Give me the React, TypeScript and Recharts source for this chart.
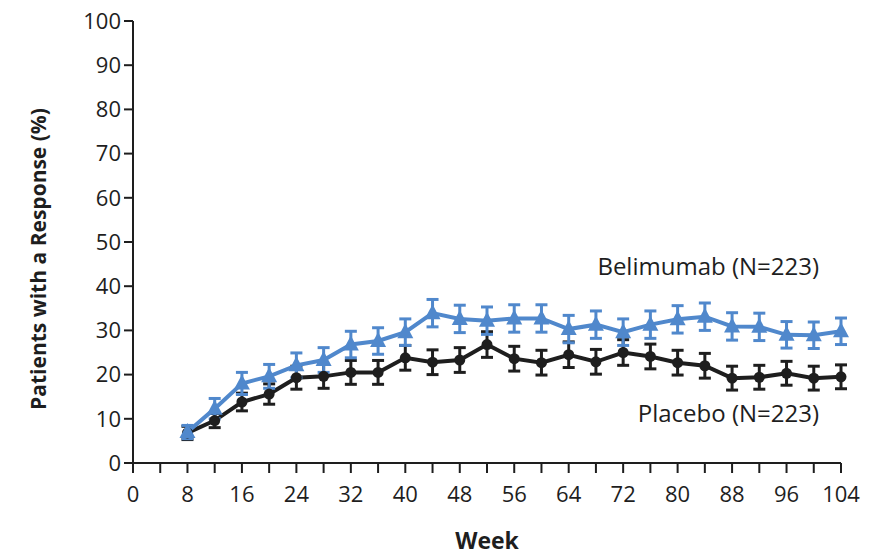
import React from 'react';
import { LineChart, Line, XAxis, YAxis, ErrorBar, ReferenceDot } from 'recharts';

const weeks = [8, 12, 16, 20, 24, 28, 32, 36, 40, 44, 48, 52, 56, 60, 64, 68, 72, 76, 80, 84, 88, 92, 96, 100, 104];
const belimumab = [7.0, 12.3, 18.0, 19.6, 22.1, 23.3, 26.8, 27.6, 29.6, 33.9, 32.6, 32.2, 32.7, 32.7, 30.3, 31.3, 29.6, 31.3, 32.5, 33.1, 30.9, 30.8, 29.0, 28.9, 29.8];
const belimumabErr = [1.5, 2.3, 2.5, 2.7, 2.8, 2.8, 3.0, 3.0, 3.0, 3.1, 3.1, 3.1, 3.1, 3.1, 3.1, 3.1, 3.0, 3.1, 3.1, 3.1, 3.1, 3.1, 3.0, 3.0, 3.0];
const placebo = [6.8, 9.6, 13.8, 15.6, 19.3, 19.6, 20.5, 20.5, 23.8, 22.8, 23.3, 26.8, 23.6, 22.7, 24.5, 22.9, 25.0, 24.1, 22.7, 22.0, 19.2, 19.4, 20.3, 19.2, 19.5];
const placeboErr = [1.5, 1.6, 2.0, 2.3, 2.6, 2.7, 2.7, 2.7, 2.8, 2.8, 2.8, 2.9, 2.8, 2.8, 2.9, 2.8, 2.9, 2.8, 2.8, 2.8, 2.7, 2.7, 2.7, 2.7, 2.7];
const xTicks = [0, 4, 8, 12, 16, 20, 24, 28, 32, 36, 40, 44, 48, 52, 56, 60, 64, 68, 72, 76, 80, 84, 88, 92, 96, 100, 104];
const yTicks = [0, 10, 20, 30, 40, 50, 60, 70, 80, 90, 100];

const data = weeks.map((week, i) => ({
  week,
  belimumab: belimumab[i],
  belimumabErr: belimumabErr[i],
  placebo: placebo[i],
  placeboErr: placeboErr[i],
}));

const BLUE = '#5088cc';
const BLACK = '#1e1e1e';
const FONT = '"Open Sans", sans-serif';

const TriangleDot = (props: any) => {
  const { cx, cy, index } = props;
  if (cx == null || cy == null) return <g key={`t-${index}`} />;
  return (
    <path
      key={`t-${index}`}
      d={`M${cx},${cy - 9} L${cx + 8},${cy + 6} L${cx - 8},${cy + 6} Z`}
      fill={BLUE}
    />
  );
};

const CircleDot = (props: any) => {
  const { cx, cy, index } = props;
  if (cx == null || cy == null) return <g key={`c-${index}`} />;
  return <circle key={`c-${index}`} cx={cx} cy={cy} r={5.5} fill={BLACK} />;
};

const YLabel = (props: any) => {
  const { viewBox } = props;
  const x = viewBox.x + 38;
  const y = viewBox.y + viewBox.height / 2 + 17;
  return (
    <text
      x={x}
      y={y}
      transform={`rotate(-90, ${x}, ${y})`}
      textAnchor="middle"
      dominantBaseline="central"
      fontFamily={FONT}
      fontWeight={700}
      fontSize={21}
      fill={BLACK}
    >
      Patients with a Response (%)
    </text>
  );
};

export default function App() {
  return (
    <div style={{ position: 'absolute', left: 0, top: 0, width: 871, height: 558, background: '#fff' }}>
      <LineChart
        width={871}
        height={558}
        data={data}
        margin={{ top: 21, right: 30, bottom: 0, left: 0 }}
        style={{ fontFamily: FONT }}
      >
        <XAxis
          dataKey="week"
          type="number"
          domain={[0, 104]}
          ticks={xTicks}
          interval={0}
          tickFormatter={(v: number) => (v % 8 === 0 ? String(v) : '')}
          height={95}
          tickSize={10}
          tickMargin={13}
          stroke={BLACK}
          strokeWidth={2}
          tick={{ fill: BLACK, fontSize: 22, fontFamily: FONT }}
          label={{ value: 'Week', position: 'insideBottom', offset: 9, fill: BLACK, fontSize: 23, fontWeight: 700, fontFamily: FONT }}
        />
        <YAxis
          type="number"
          domain={[0, 100]}
          ticks={yTicks}
          interval={0}
          width={133}
          tickSize={9}
          tickMargin={3}
          stroke={BLACK}
          strokeWidth={2}
          tick={{ fill: BLACK, fontSize: 22, fontFamily: FONT }}
          label={<YLabel />}
        />
        <Line
          dataKey="placebo"
          stroke={BLACK}
          strokeWidth={4}
          dot={CircleDot}
          activeDot={false}
          isAnimationActive={false}
        >
          <ErrorBar dataKey="placeboErr" width={6} strokeWidth={3} stroke={BLACK} isAnimationActive={false} />
        </Line>
        <Line
          dataKey="belimumab"
          stroke={BLUE}
          strokeWidth={4}
          dot={TriangleDot}
          activeDot={false}
          isAnimationActive={false}
        >
          <ErrorBar dataKey="belimumabErr" width={6} strokeWidth={3} stroke={BLUE} isAnimationActive={false} />
        </Line>
        <ReferenceDot
          x={104}
          y={44.4}
          r={0}
          fill="none"
          stroke="none"
          label={{ value: 'Belimumab (N=223)', position: 'left', offset: 22, fill: BLACK, fontSize: 24, fontFamily: FONT }}
        />
        <ReferenceDot
          x={104}
          y={11.3}
          r={0}
          fill="none"
          stroke="none"
          label={{ value: 'Placebo (N=223)', position: 'left', offset: 22, fill: BLACK, fontSize: 24, fontFamily: FONT }}
        />
      </LineChart>
    </div>
  );
}
